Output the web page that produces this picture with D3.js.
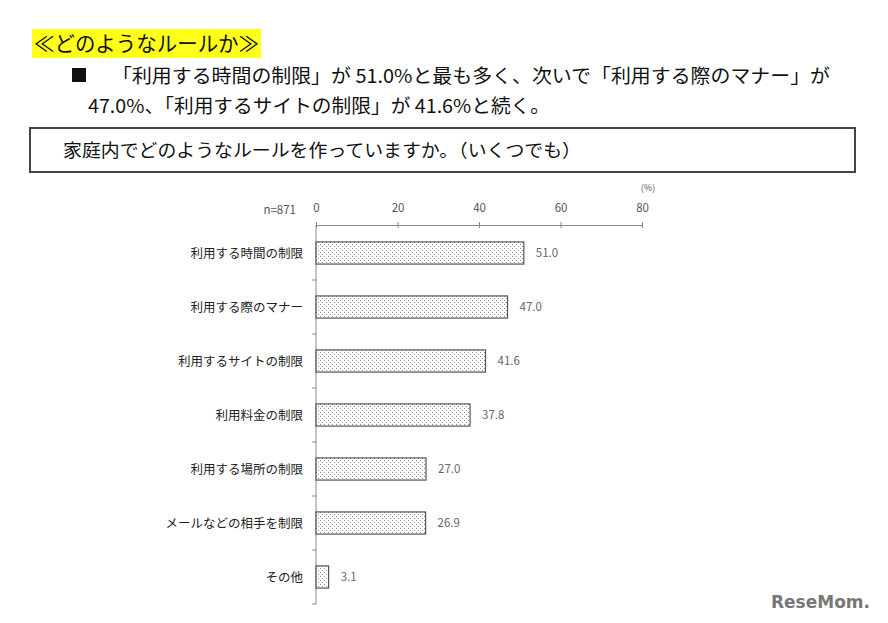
<!DOCTYPE html>
<html><head><meta charset="utf-8">
<script src="https://cdn.jsdelivr.net/npm/d3@7"></script>
<style>body{margin:0;background:#fff;}svg{display:block;}</style>
</head><body><div id="chart"></div>
<script>
const categories = ["利用する時間の制限","利用する際のマナー","利用するサイトの制限","利用料金の制限","利用する場所の制限","メールなどの相手を制限","その他"];
const values = [51.0, 47.0, 41.6, 37.8, 27.0, 26.9, 3.1];
const xTicks = [0, 20, 40, 60, 80];
const heading = "≪どのようなルールか≫";
const summary1 = "「利用する時間の制限」が 51.0%と最も多く、次いで「利用する際のマナー」が";
const summary2 = "47.0%、「利用するサイトの制限」が 41.6%と続く。";
const question = "家庭内でどのようなルールを作っていますか。（いくつでも）";
const nLabel = "n=871";

const W = 888, H = 623;
const font = "'Noto Sans CJK JP', 'Noto Sans', sans-serif";
const svg = d3.select("#chart").append("svg").attr("width", W).attr("height", H)
  .style("font-family", font);

const defs = svg.append("defs");
const pat = defs.append("pattern").attr("id","dots").attr("patternUnits","userSpaceOnUse")
  .attr("width",4).attr("height",4);
pat.append("rect").attr("width",4).attr("height",4).attr("fill","#fff");
pat.append("rect").attr("x",0).attr("y",0).attr("width",1).attr("height",1).attr("fill","#8a8a8a");
pat.append("rect").attr("x",2).attr("y",2).attr("width",1).attr("height",1).attr("fill","#8a8a8a");

// Heading
svg.append("rect").attr("x",32).attr("y",29).attr("width",229).attr("height",29).attr("fill","#ffff1a");
svg.append("text").attr("x",34).attr("y",51).attr("font-size",21).attr("fill","#111")
  .attr("textLength",225).attr("lengthAdjust","spacingAndGlyphs").text(heading);

svg.append("rect").attr("x",72).attr("y",68).attr("width",14).attr("height",14).attr("fill","#111");
svg.append("text").attr("x",112).attr("y",83).attr("font-size",19).attr("fill","#111")
  .attr("textLength",718).attr("lengthAdjust","spacingAndGlyphs").text(summary1);
svg.append("text").attr("x",88).attr("y",113).attr("font-size",19).attr("fill","#111")
  .attr("textLength",462).attr("lengthAdjust","spacingAndGlyphs").text(summary2);

// Question box
svg.append("rect").attr("x",30).attr("y",128).attr("width",825).attr("height",44)
  .attr("fill","#fff").attr("stroke","#444").attr("stroke-width",2);
svg.append("text").attr("x",63).attr("y",157).attr("font-size",18).attr("fill","#111")
  .attr("textLength",518).attr("lengthAdjust","spacingAndGlyphs").text(question);

// Chart
const x = d3.scaleLinear().domain([0,80]).range([316,642]);
const y = d3.scaleBand().domain(categories).range([226,604]).paddingInner(0.59).paddingOuter(0.295);
const yb = d3.scaleBand().domain(categories).range([226,604]);

const xAxis = svg.append("g").attr("transform","translate(0,225)")
  .call(d3.axisTop(x).tickValues(xTicks).tickSize(3).tickPadding(10).tickFormat(d3.format("d")));
xAxis.select(".domain").attr("stroke","#888");
xAxis.selectAll(".tick line").attr("stroke","#888").attr("y2",3).attr("y1",-3);
xAxis.selectAll(".tick text").attr("font-size",11.5).attr("fill","#555").attr("font-family",font);

svg.append("text").attr("x",648).attr("y",191).attr("font-size",9).attr("fill","#555").attr("text-anchor","middle").text("(%)");
svg.append("text").attr("x",296).attr("y",214).attr("font-size",11.5).attr("fill","#555").attr("text-anchor","end").text(nLabel);

// vertical axis with ticks at band boundaries
svg.append("line").attr("x1",316).attr("x2",316).attr("y1",225).attr("y2",604).attr("stroke","#888");
svg.selectAll(".ytick").data(categories).enter().append("line")
  .attr("x1",312).attr("x2",316)
  .attr("y1",d=>yb(d)+yb.step()).attr("y2",d=>yb(d)+yb.step()).attr("stroke","#888");

svg.selectAll(".bar").data(categories).enter().append("rect")
  .attr("x",x(0)).attr("y",d=>y(d))
  .attr("width",(d,i)=>x(values[i])-x(0)).attr("height",y.bandwidth())
  .attr("fill","url(#dots)").attr("stroke","#555").attr("stroke-width",1.2);

svg.selectAll(".cat").data(categories).enter().append("text")
  .attr("x",303).attr("y",d=>y(d)+y.bandwidth()/2+4.5).attr("text-anchor","end")
  .attr("font-size",12.5).attr("fill","#222").text(d=>d);

svg.selectAll(".val").data(categories).enter().append("text")
  .attr("x",(d,i)=>x(values[i])+12).attr("y",d=>y(d)+y.bandwidth()/2+4)
  .attr("font-size",11.5).attr("fill","#666").text((d,i)=>values[i].toFixed(1));

// watermark
svg.append("text").attr("x",870).attr("y",608).attr("font-size",17).attr("font-weight","bold")
  .attr("text-anchor","end")
  .attr("fill","#777").attr("font-family","'DejaVu Sans', sans-serif").text("ReseMom.");
</script></body></html>
